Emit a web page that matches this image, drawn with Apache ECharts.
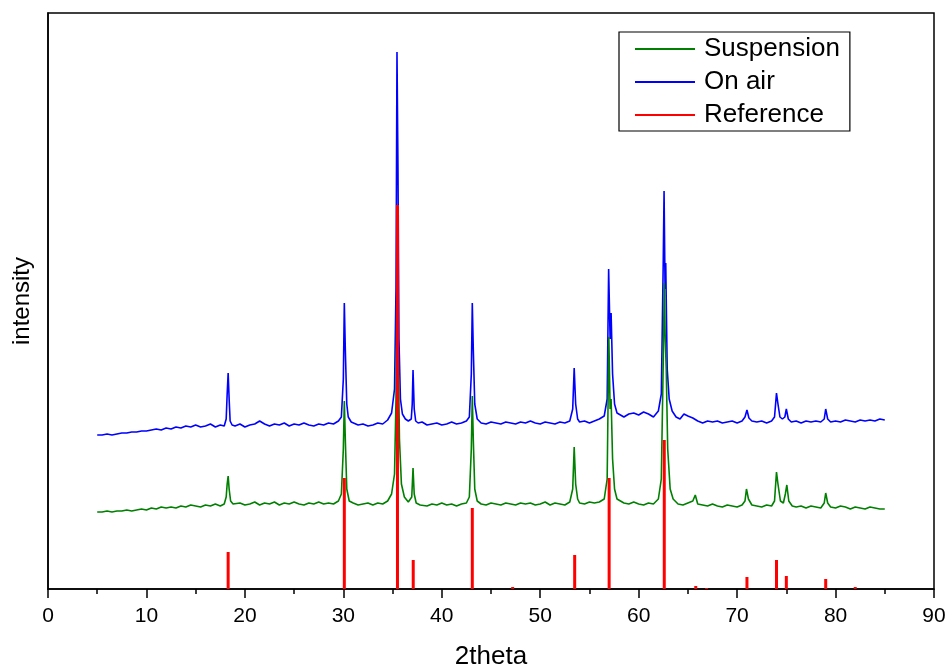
<!DOCTYPE html>
<html>
<head>
<meta charset="utf-8">
<script src="https://cdn.jsdelivr.net/npm/echarts@6/dist/echarts.min.js"></script>
<style>html,body{margin:0;padding:0;background:#fff;}#chart{width:948px;height:668px;}</style>
</head>
<body>
<div id="chart"></div>
<script>
const xTicks = [0, 10, 20, 30, 40, 50, 60, 70, 80, 90];

const onAir = [[5.0,154],[5.5,154],[6.0,155],[6.5,154],[7.0,155],[7.5,156],[8.0,156],[8.5,157],[9.0,157],[9.5,158],[10.0,158],[10.5,159],[11.0,160],[11.5,159],[12.0,161],[12.5,160],[13.0,162],[13.5,161],[14.0,163],[14.5,162],[15.0,164],[15.5,162],[16.0,163],[16.5,165],[17.0,162],[17.5,164],[17.9,163],[18.1,170],[18.2,195],[18.3,216],[18.4,190],[18.5,168],[18.7,164],[19.0,163],[19.5,165],[20.0,162],[20.5,164],[21.0,165],[21.5,168],[22.0,165],[22.5,163],[23.0,165],[23.5,164],[24.0,166],[24.5,163],[25.0,165],[25.5,164],[26.0,166],[26.5,164],[27.0,163],[27.5,165],[28.0,164],[28.5,166],[29.0,165],[29.5,168],[29.8,172],[30.0,210],[30.1,286],[30.2,240],[30.35,185],[30.5,172],[30.8,167],[31.0,166],[31.5,164],[32.0,165],[32.5,163],[33.0,164],[33.5,166],[34.0,165],[34.5,169],[34.9,176],[35.2,200],[35.35,300],[35.45,537],[35.55,420],[35.65,250],[35.8,190],[36.0,175],[36.3,170],[36.6,168],[36.9,170],[37.0,185],[37.08,219],[37.2,180],[37.35,168],[37.6,166],[38.0,167],[38.5,164],[39.0,165],[39.5,166],[40.0,164],[40.5,165],[41.0,167],[41.5,165],[42.0,166],[42.5,168],[42.8,172],[43.0,215],[43.1,286],[43.2,240],[43.35,185],[43.6,170],[44.0,166],[44.5,165],[45.0,167],[45.5,166],[46.0,165],[46.5,167],[47.0,166],[47.5,165],[48.0,167],[48.5,166],[49.0,168],[49.5,166],[50.0,165],[50.5,167],[51.0,166],[51.5,165],[52.0,167],[52.5,166],[53.0,168],[53.3,180],[53.45,221],[53.6,185],[53.8,170],[54.0,167],[54.5,168],[55.0,166],[55.5,168],[56.0,170],[56.5,173],[56.8,190],[56.95,320],[57.1,250],[57.2,276],[57.35,215],[57.55,185],[57.8,176],[58.0,175],[58.5,172],[59.0,175],[59.5,176],[60.0,174],[60.5,177],[61.0,175],[61.5,172],[62.0,178],[62.3,195],[62.5,330],[62.58,398],[62.68,300],[62.75,326],[62.9,220],[63.1,190],[63.4,178],[63.8,172],[64.2,170],[64.6,175],[65.0,173],[65.5,171],[66.0,168],[66.5,166],[67.0,168],[67.5,167],[68.0,168],[68.5,166],[69.0,167],[69.5,168],[70.0,166],[70.5,168],[70.8,172],[71.0,179],[71.2,171],[71.5,168],[72.0,167],[72.5,168],[73.0,166],[73.5,168],[73.8,172],[74.0,196],[74.15,185],[74.35,172],[74.6,170],[74.85,172],[75.0,180],[75.2,170],[75.5,167],[76.0,168],[76.5,166],[77.0,168],[77.5,167],[78.0,168],[78.5,167],[78.85,170],[79.0,180],[79.2,170],[79.5,167],[80.0,168],[80.5,167],[81.0,169],[81.5,168],[82.0,167],[82.5,169],[83.0,168],[83.5,169],[84.0,168],[84.5,170],[85.0,169]];

const suspension = [[5.0,77],[5.5,77],[6.0,78],[6.5,77],[7.0,78],[7.5,78],[8.0,79],[8.5,78],[9.0,79],[9.5,80],[10.0,79],[10.5,81],[11.0,80],[11.5,82],[12.0,81],[12.5,82],[13.0,81],[13.5,83],[14.0,82],[14.5,84],[15.0,83],[15.5,82],[16.0,84],[16.5,83],[17.0,85],[17.5,83],[17.9,85],[18.1,92],[18.2,105],[18.3,113],[18.4,100],[18.55,88],[18.8,85],[19.0,84],[19.5,86],[20.0,84],[20.5,85],[21.0,87],[21.5,84],[22.0,86],[22.5,85],[23.0,87],[23.5,84],[24.0,86],[24.5,85],[25.0,87],[25.5,85],[26.0,84],[26.5,86],[27.0,85],[27.5,87],[28.0,85],[28.5,86],[29.0,85],[29.5,88],[29.8,95],[30.0,140],[30.1,188],[30.2,150],[30.35,100],[30.6,88],[31.0,86],[31.5,84],[32.0,85],[32.5,86],[33.0,84],[33.5,86],[34.0,85],[34.5,88],[34.9,95],[35.2,115],[35.35,190],[35.45,321],[35.55,260],[35.7,150],[35.9,105],[36.2,92],[36.6,87],[36.95,92],[37.08,121],[37.2,95],[37.4,86],[37.8,84],[38.0,85],[38.5,83],[39.0,85],[39.5,84],[40.0,86],[40.5,84],[41.0,85],[41.5,83],[42.0,85],[42.5,86],[42.8,92],[43.0,140],[43.1,193],[43.2,150],[43.35,100],[43.6,88],[44.0,85],[44.5,84],[45.0,86],[45.5,85],[46.0,84],[46.5,86],[47.0,85],[47.5,84],[48.0,86],[48.5,85],[49.0,86],[49.5,84],[50.0,85],[50.5,87],[51.0,84],[51.5,86],[52.0,85],[52.5,84],[53.0,87],[53.3,100],[53.45,142],[53.6,105],[53.8,90],[54.0,86],[54.5,85],[55.0,87],[55.5,86],[56.0,87],[56.5,90],[56.8,110],[56.97,252],[57.1,180],[57.2,190],[57.35,130],[57.55,100],[57.8,90],[58.0,88],[58.5,86],[59.0,85],[59.5,87],[60.0,85],[60.5,84],[61.0,86],[61.5,85],[62.0,90],[62.3,110],[62.5,230],[62.6,306],[62.7,250],[62.8,220],[62.95,140],[63.2,100],[63.5,90],[64.0,85],[64.5,84],[65.0,86],[65.5,88],[65.75,94],[66.0,85],[66.5,84],[67.0,83],[67.5,85],[68.0,83],[68.5,82],[69.0,84],[69.5,83],[70.0,82],[70.5,84],[70.8,88],[70.95,100],[71.15,90],[71.5,84],[72.0,83],[72.5,82],[73.0,84],[73.5,83],[73.8,88],[74.0,117],[74.15,105],[74.4,88],[74.7,86],[74.9,95],[75.05,104],[75.25,88],[75.6,83],[76.0,82],[76.5,83],[77.0,81],[77.5,83],[78.0,82],[78.5,81],[78.85,86],[79.0,96],[79.2,86],[79.5,82],[80.0,81],[80.5,83],[81.0,82],[81.5,80],[82.0,82],[82.5,81],[83.0,80],[83.5,82],[84.0,81],[84.5,80],[85.0,80]];

const reference = [[18.3,37],[30.1,111],[35.5,384],[37.1,29],[43.1,81],[47.2,2],[53.5,34],[57.0,111],[62.6,149],[65.8,3],[66.9,1],[71.0,12],[74.0,29],[75.0,13],[79.0,10],[82.0,2]];

const FONT = "'Liberation Sans', Arial, sans-serif";
const chart = echarts.init(document.getElementById('chart'), null, {renderer: 'canvas'});
chart.setOption({
  backgroundColor: '#fff',
  animation: false,
  grid: {left: 48, right: 14, top: 13, bottom: 79, containLabel: false, outerBoundsMode: 'none',
         show: true, borderColor: '#000', borderWidth: 1.5, backgroundColor: 'transparent'},
  legend: {
    orient: 'vertical', left: 619, top: 32,
    padding: [4, 10, 3, 16],
    borderColor: '#000', borderWidth: 1.2,
    itemWidth: 60, itemHeight: 2, itemGap: 7,
    icon: 'rect',
    textStyle: {fontFamily: FONT, fontSize: 26, color: '#000', padding: [0, 0, 0, 4]},
    data: ['Suspension', 'On air', 'Reference']
  },
  xAxis: {
    type: 'value', min: xTicks[0], max: xTicks[xTicks.length - 1], interval: 10,
    name: '2theta', nameLocation: 'middle', nameGap: 55,
    nameTextStyle: {fontFamily: FONT, fontSize: 26, color: '#000'},
    axisLine: {show: true, lineStyle: {color: '#000', width: 1.5}},
    axisTick: {show: true, inside: false, length: 9, lineStyle: {color: '#000', width: 1.5}},
    minorTick: {show: true, splitNumber: 2, length: 5, lineStyle: {color: '#000', width: 1.5}},
    axisLabel: {fontFamily: FONT, fontSize: 21, color: '#000', margin: 17},
    splitLine: {show: false}
  },
  yAxis: {
    type: 'value', min: 0, max: 576,
    name: 'intensity', nameLocation: 'middle', nameGap: 14,
    nameTextStyle: {fontFamily: FONT, fontSize: 24, color: '#000'},
    axisLine: {show: true, lineStyle: {color: '#000', width: 1.5}},
    axisTick: {show: false}, axisLabel: {show: false}, splitLine: {show: false}
  },
  series: [
    {name: 'On air', type: 'line', data: onAir, showSymbol: false, symbol: 'none',
     lineStyle: {color: '#0000ff', width: 1.6}, itemStyle: {color: '#0000ff'}, z: 2},
    {name: 'Suspension', type: 'line', data: suspension, showSymbol: false, symbol: 'none',
     lineStyle: {color: '#008000', width: 1.6}, itemStyle: {color: '#008000'}, z: 3},
    {name: 'Reference', type: 'bar', data: reference, barWidth: 3,
     itemStyle: {color: '#ff0000'}, z: 4}
  ]
});
</script>
</body>
</html>
